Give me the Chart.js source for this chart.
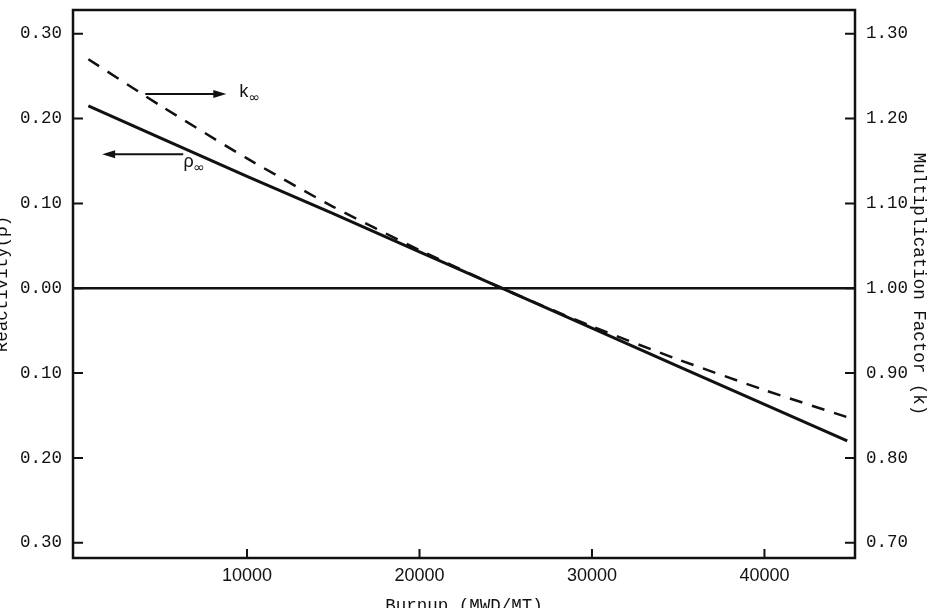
<!DOCTYPE html>
<html>
<head>
<meta charset="utf-8">
<script src="https://cdn.jsdelivr.net/npm/chart.js@4.4.1/dist/chart.umd.min.js"></script>
<style>
  html, body { margin: 0; padding: 0; background: #fff; overflow: hidden; }
  canvas { display: block; }
</style>
</head>
<body>
<canvas id="burnupChart" width="942" height="620"></canvas>
<script>
// values
var burnup = [800, 5000, 10000, 15000, 20000, 25000, 30000, 35000, 40000, 44800];
var rhoInf = [0.215, 0.177, 0.132, 0.088, 0.043, -0.002, -0.047, -0.092, -0.137, -0.180];
var kInf = [1.270, 1.215, 1.153, 1.096, 1.045, 0.998, 0.955, 0.916, 0.880, 0.848];

var burnupTicks = [10000, 20000, 30000, 40000];
var rhoTicks = [-0.3, -0.2, -0.1, 0, 0.1, 0.2, 0.3];
var rhoTickLabels = ['0.30', '0.20', '0.10', '0.00', '0.10', '0.20', '0.30'];
var kTicks = [0.7, 0.8, 0.9, 1.0, 1.1, 1.2, 1.3];
var kTickLabels = ['0.70', '0.80', '0.90', '1.00', '1.10', '1.20', '1.30'];

// arrow notes, in data units (burnup, reactivity)
var notes = [
  {text: 'k', x0: 4100, x1: 8800, y: 0.229, lx: 9500, ly: 0.231},
  {text: 'ρ', x0: 6300, x1: 1600, y: 0.158, lx: 6300, ly: 0.148}
];

var ink = '#111';
var mono = '"Liberation Mono", "Courier New", monospace';

function labelFor(ticks, labels, v) {
  var i = ticks.findIndex(function (t) { return Math.abs(t - v) < 1e-6; });
  return i < 0 ? '' : labels[i];
}

function noPad(sc) {
  sc.paddingTop = 0; sc.paddingBottom = 0;
  sc.paddingLeft = 0; sc.paddingRight = 0;
}

var frameAndTicks = {
  id: 'frameAndTicks',
  afterDraw: function (chart) {
    var ctx = chart.ctx, a = chart.chartArea, s = chart.scales;
    ctx.save();
    ctx.strokeStyle = ink;
    ctx.lineWidth = 2.5;
    ctx.strokeRect(a.left, a.top, a.right - a.left, a.bottom - a.top);

    ctx.lineWidth = 2;
    ctx.beginPath();
    s.y.ticks.forEach(function (t) {
      var p = s.y.getPixelForValue(t.value);
      ctx.moveTo(a.left, p); ctx.lineTo(a.left + 10, p);
    });
    s.y1.ticks.forEach(function (t) {
      var p = s.y1.getPixelForValue(t.value);
      ctx.moveTo(a.right, p); ctx.lineTo(a.right - 10, p);
    });
    s.x.ticks.forEach(function (t) {
      var p = s.x.getPixelForValue(t.value);
      ctx.moveTo(p, a.bottom); ctx.lineTo(p, a.bottom - 9);
    });
    ctx.stroke();

    // arrows with k∞ / ρ∞ labels
    ctx.fillStyle = ink;
    notes.forEach(function (n) {
      var px0 = s.x.getPixelForValue(n.x0), px1 = s.x.getPixelForValue(n.x1);
      var py = s.y.getPixelForValue(n.y);
      var dir = px1 > px0 ? 1 : -1;
      ctx.lineWidth = 2;
      ctx.beginPath();
      ctx.moveTo(px0, py); ctx.lineTo(px1 - dir * 10, py);
      ctx.stroke();
      ctx.beginPath();
      ctx.moveTo(px1, py);
      ctx.lineTo(px1 - dir * 13, py - 4);
      ctx.lineTo(px1 - dir * 13, py + 4);
      ctx.closePath();
      ctx.fill();

      var lx = s.x.getPixelForValue(n.lx), ly = s.y.getPixelForValue(n.ly);
      ctx.textBaseline = 'middle';
      ctx.textAlign = 'left';
      ctx.font = '18px ' + mono;
      ctx.fillText(n.text, lx, ly);
      ctx.font = '14px "DejaVu Sans"';
      ctx.fillText('∞', lx + 10, ly + 6);
    });
    ctx.restore();
  }
};

var ctxB = document.getElementById('burnupChart').getContext('2d');
var burnupChart = new Chart(ctxB, {
  type: 'line',
  data: {
    datasets: [{
      label: 'ρ∞',
      data: burnup.map(function (b, i) { return {x: b, y: rhoInf[i]}; }),
      yAxisID: 'y',
      borderColor: ink,
      borderWidth: 3,
      pointRadius: 0,
      tension: 0
    }, {
      label: 'k∞',
      data: burnup.map(function (b, i) { return {x: b, y: kInf[i]}; }),
      yAxisID: 'y1',
      borderColor: ink,
      borderWidth: 2.5,
      borderDash: [13, 10],
      pointRadius: 0,
      tension: 0.2
    }]
  },
  options: {
    responsive: false,
    animation: false,
    devicePixelRatio: 1,
    layout: { padding: { top: 10, left: 0, right: 0, bottom: 0 } },
    plugins: { legend: { display: false }, tooltip: { enabled: false } },
    scales: {
      x: {
        type: 'linear',
        min: -90,
        max: 45250,
        afterFit: function (sc) { sc.height = 62; noPad(sc); },
        afterBuildTicks: function (sc) { sc.ticks = burnupTicks.map(function (v) { return {value: v}; }); },
        grid: { display: false, drawTicks: false },
        border: { display: false },
        ticks: {
          padding: 7,
          maxRotation: 0,
          color: ink,
          font: { family: '"Liberation Sans", Arial, sans-serif', size: 18 },
          callback: function (v) { return String(v); }
        },
        title: {
          display: true,
          text: 'Burnup (MWD/MT)',
          color: ink,
          font: { family: mono, size: 17.5 },
          padding: { top: 0, bottom: 3 }
        }
      },
      y: {
        position: 'left',
        min: -0.318,
        max: 0.328,
        afterFit: function (sc) { sc.width = 73; noPad(sc); },
        afterBuildTicks: function (sc) { sc.ticks = rhoTicks.map(function (v) { return {value: v}; }); },
        grid: {
          drawTicks: false,
          lineWidth: 2.5,
          color: function (c) { return c.tick && Math.abs(c.tick.value) < 1e-6 ? ink : 'rgba(0,0,0,0)'; }
        },
        border: { display: false },
        ticks: {
          padding: 11,
          color: ink,
          font: { family: mono, size: 17.5 },
          callback: function (v) { return labelFor(rhoTicks, rhoTickLabels, v); }
        },
        title: {
          display: true,
          text: 'Reactivity(ρ)',
          color: ink,
          font: { family: mono, size: 17.5 },
          padding: { top: -8, bottom: 0 }
        }
      },
      y1: {
        position: 'right',
        min: 0.682,
        max: 1.328,
        afterFit: function (sc) { sc.width = 87; noPad(sc); },
        afterBuildTicks: function (sc) { sc.ticks = kTicks.map(function (v) { return {value: v}; }); },
        grid: { display: false, drawTicks: false },
        border: { display: false },
        ticks: {
          padding: 11,
          color: ink,
          font: { family: mono, size: 17.5 },
          callback: function (v) { return labelFor(kTicks, kTickLabels, v); }
        },
        title: {
          display: true,
          text: 'Multiplication Factor (k)',
          color: ink,
          font: { family: mono, size: 17.5 },
          padding: { top: 13, bottom: 0 }
        }
      }
    }
  },
  plugins: [frameAndTicks]
});
</script>
</body>
</html>
